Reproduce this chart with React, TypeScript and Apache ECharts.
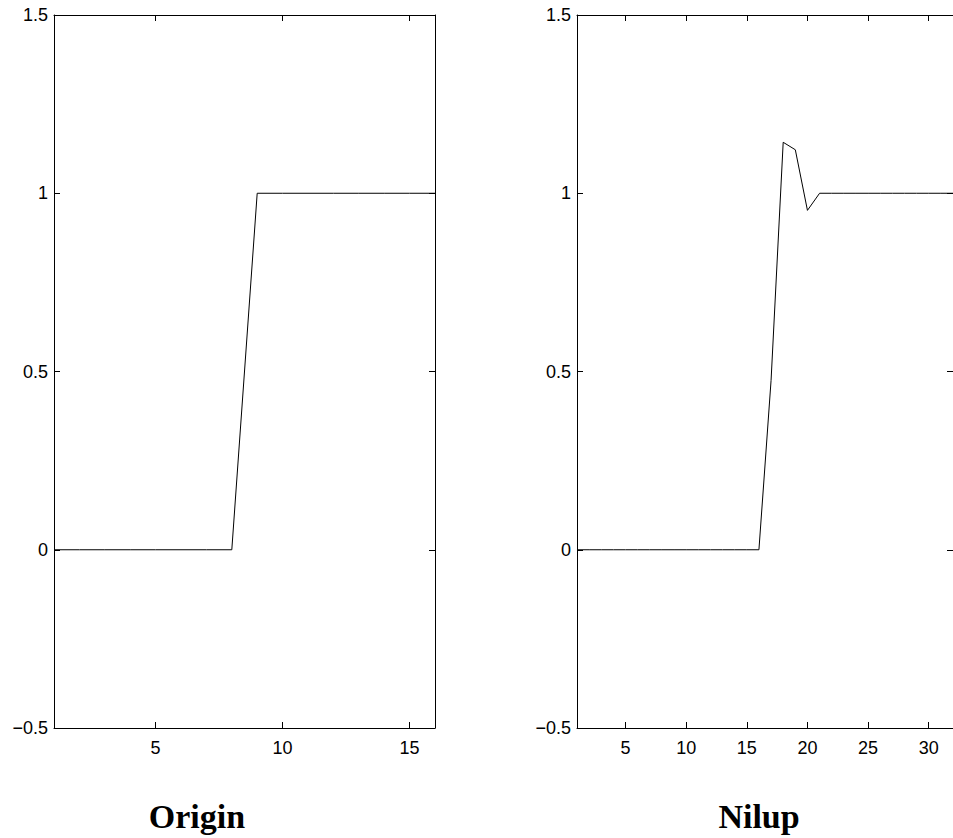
import React, { useEffect, useRef } from "react";
import * as echarts from "echarts";

// Left panel: "Origin"
const originX = [1, 2, 3, 4, 5, 6, 7, 8, 9, 10, 11, 12, 13, 14, 15, 16];
const originY = [0, 0, 0, 0, 0, 0, 0, 0, 1, 1, 1, 1, 1, 1, 1, 1];

// Right panel: "Nilup"
const nilupX = [1, 2, 3, 4, 5, 6, 7, 8, 9, 10, 11, 12, 13, 14, 15, 16, 17, 18, 19, 20, 21, 22, 23, 24, 25, 26, 27, 28, 29, 30, 31, 32];
const nilupY = [0, 0, 0, 0, 0, 0, 0, 0, 0, 0, 0, 0, 0, 0, 0, 0, 0.475, 1.143, 1.122, 0.952, 1, 1, 1, 1, 1, 1, 1, 1, 1, 1, 1, 1];

const originTicks = [5, 10, 15];
const nilupTicks = [5, 10, 15, 20, 25, 30];
const yTicks = [-0.5, 0, 0.5, 1, 1.5];
const titles = ["Origin", "Nilup"];

const fmtY = (v: number) => String(v).replace("-", "\u2212");

export default function App() {
  const ref = useRef<HTMLDivElement>(null);
  useEffect(() => {
    if (!ref.current) return;
    const chart = echarts.init(ref.current, undefined, { renderer: "svg" });
    const labelStyle = { color: "#000", fontFamily: "Liberation Sans", fontSize: 18 };
    const lineStyle = { color: "#000", width: 1 };
    const makeX = (gridIndex: number, max: number, ticks: number[], position: "bottom" | "top") => ({
      type: "value",
      gridIndex,
      position,
      min: 1,
      max,
      splitLine: { show: false },
      axisLine: { show: true, onZero: false, lineStyle },
      axisTick: { show: true, inside: true, length: 6, customValues: ticks, lineStyle },
      axisLabel: {
        show: position === "bottom",
        customValues: ticks,
        margin: 11,
        ...labelStyle,
      },
    });
    const makeY = (gridIndex: number, position: "left" | "right") => ({
      type: "value",
      gridIndex,
      position,
      min: yTicks[0],
      max: yTicks[yTicks.length - 1],
      interval: 0.5,
      splitLine: { show: false },
      axisLine: { show: true, onZero: false, lineStyle },
      axisTick: { show: true, inside: true, length: 6, lineStyle },
      axisLabel: {
        show: position === "left",
        margin: 6,
        formatter: fmtY,
        ...labelStyle,
      },
    });
    chart.setOption({
      animation: false,
      backgroundColor: "#fff",
      grid: [
        { left: 54, top: 15, width: 381, height: 713 },
        { left: 577, top: 15, width: 382, height: 713 },
      ],
      xAxis: [
        makeX(0, originX[originX.length - 1], originTicks, "bottom"),
        makeX(0, originX[originX.length - 1], originTicks, "top"),
        makeX(1, nilupX[nilupX.length - 1], nilupTicks, "bottom"),
        makeX(1, nilupX[nilupX.length - 1], nilupTicks, "top"),
      ],
      yAxis: [makeY(0, "left"), makeY(0, "right"), makeY(1, "left"), makeY(1, "right")],
      series: [
        {
          type: "line",
          xAxisIndex: 0,
          yAxisIndex: 0,
          data: originX.map((x, i) => [x, originY[i]]),
          symbol: "none",
          lineStyle: { color: "#000", width: 1 },
        },
        {
          type: "line",
          xAxisIndex: 2,
          yAxisIndex: 2,
          data: nilupX.map((x, i) => [x, nilupY[i]]),
          symbol: "none",
          lineStyle: { color: "#000", width: 1 },
        },
      ],
      graphic: [
        {
          type: "text",
          x: 197,
          y: 816,
          style: {
            text: titles[0],
            fill: "#000",
            font: "bold 34px 'Liberation Serif'",
            align: "center",
            verticalAlign: "middle",
          },
        },
        {
          type: "text",
          x: 759,
          y: 816,
          style: {
            text: titles[1],
            fill: "#000",
            font: "bold 34px 'Liberation Serif'",
            align: "center",
            verticalAlign: "middle",
          },
        },
      ],
    });
    return () => chart.dispose();
  }, []);
  return (
    <div
      ref={ref}
      style={{ position: "fixed", left: 0, top: 0, width: 953, height: 838, background: "#fff" }}
    />
  );
}
